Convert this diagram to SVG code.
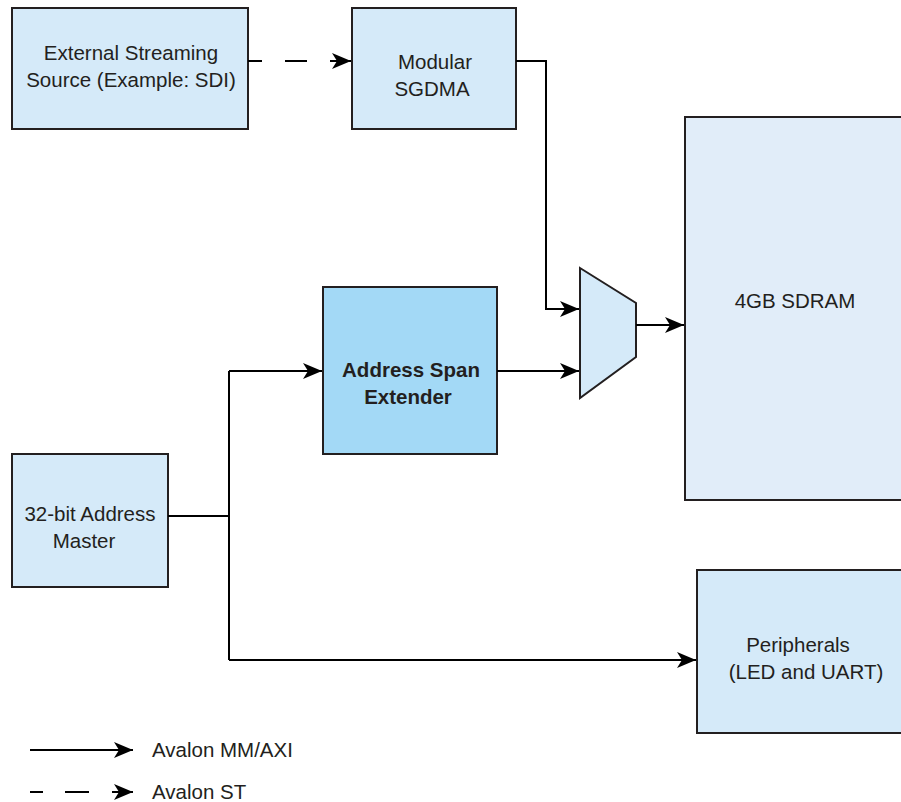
<svg xmlns="http://www.w3.org/2000/svg" width="901" height="802" viewBox="0 0 901 802">
<defs>
<marker id="arr" markerUnits="userSpaceOnUse" markerWidth="20" markerHeight="16" refX="19" refY="8" orient="auto">
<path d="M0,0 L19,8 L0,16 L5,8 Z" fill="#000"/>
</marker>
</defs>
<style>
.box{stroke:#231f20;stroke-width:2}
.n{fill:#d5eaf9}
.t{font-family:"Liberation Sans",Arial,sans-serif;font-size:20.5px;fill:#231f20;text-anchor:middle}
.b{font-weight:bold}
.c{fill:none;stroke:#000;stroke-width:2}
</style>
<rect width="901" height="802" fill="#fff"/>
<g id="external-source">
<rect class="box n" x="12" y="8" width="236" height="121"/>
<text class="t" x="131" y="60">External Streaming</text>
<text class="t" x="131" y="87">Source (Example: SDI)</text>
</g>
<g id="sgdma">
<rect class="box n" x="352" y="8" width="164" height="121"/>
<text class="t" x="435" y="69">Modular</text>
<text class="t" x="432" y="96">SGDMA</text>
</g>
<g id="sdram">
<rect class="box" fill="#e1edf9" x="685" y="117" width="230" height="383"/>
<text class="t" x="795" y="308">4GB SDRAM</text>
</g>
<g id="mux">
<polygon class="box n" points="580,268 636,303 636,357 580,398"/>
</g>
<g id="address-span-extender">
<rect class="box" fill="#a3d9f6" x="323" y="287" width="174" height="167"/>
<text class="t b" x="411" y="377">Address Span</text>
<text class="t b" x="408" y="404">Extender</text>
</g>
<g id="master">
<rect class="box n" x="12" y="454" width="156" height="133"/>
<text class="t" x="90" y="521">32-bit Address</text>
<text class="t" x="84" y="548">Master</text>
</g>
<g id="peripherals">
<rect class="box n" x="697" y="570" width="220" height="163"/>
<text class="t" x="798" y="652">Peripherals</text>
<text class="t" x="806" y="679">(LED and UART)</text>
</g>
<g id="connectors">
<path class="c" d="M248,61 H262 M285,61 H307"/>
<path class="c" d="M330,61 H351" marker-end="url(#arr)"/>
<path class="c" d="M516,61 H546 V309 H579" marker-end="url(#arr)"/>
<path class="c" d="M497,371 H579" marker-end="url(#arr)"/>
<path class="c" d="M636,325 H684" marker-end="url(#arr)"/>
<path class="c" d="M168,516 H229"/>
<path class="c" d="M229,371 V660"/>
<path class="c" d="M229,371 H322" marker-end="url(#arr)"/>
<path class="c" d="M229,660 H696" marker-end="url(#arr)"/>
</g>
<g id="legend">
<path class="c" d="M30,750 H133" marker-end="url(#arr)"/>
<text class="t" style="text-anchor:start" x="152" y="757">Avalon MM/AXI</text>
<path class="c" d="M30,792 H43 M65,792 H89"/>
<path class="c" d="M112,792 H133" marker-end="url(#arr)"/>
<text class="t" style="text-anchor:start" x="152" y="799">Avalon ST</text>
</g>
</svg>
